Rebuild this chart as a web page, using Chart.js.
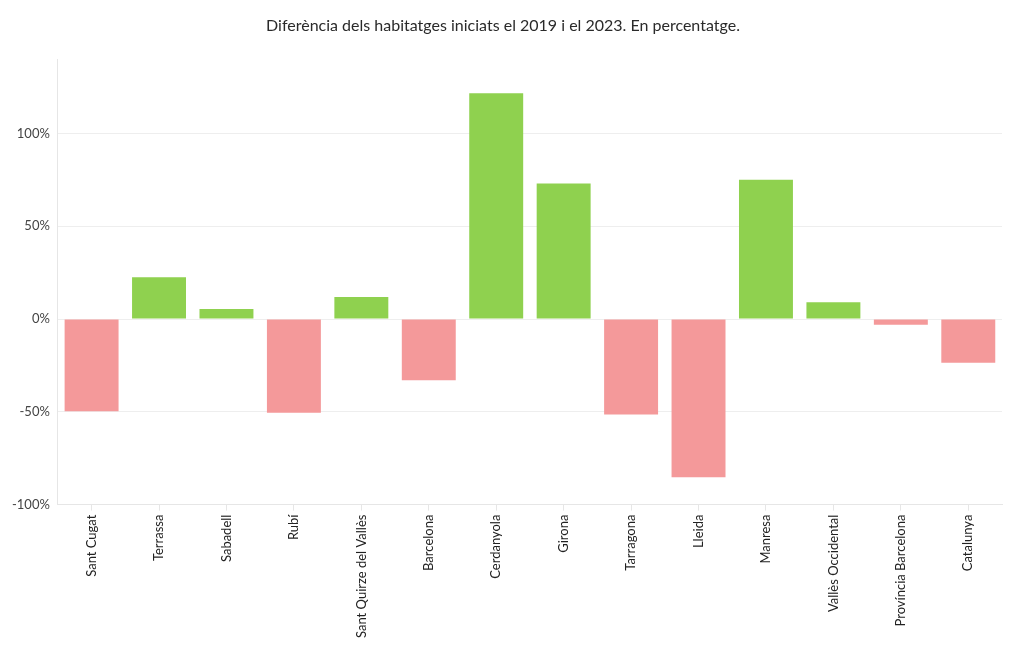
<!DOCTYPE html>
<html>
<head>
<meta charset="utf-8">
<script src="https://cdn.jsdelivr.net/npm/chart.js@4"></script>
<style>
  body { margin: 0; background: #fff; }
  #contenidor { width: 1020px; height: 650px; }
</style>
</head>
<body>
<div id="contenidor"><canvas id="myChart" width="1020" height="650"></canvas></div>
<script>
var municipis = ['Sant Cugat', 'Terrassa', 'Sabadell', 'Rubí', 'Sant Quirze del Vallès', 'Barcelona', 'Cerdanyola', 'Girona', 'Tarragona', 'Lleida', 'Manresa', 'Vallès Occidental', 'Província Barcelona', 'Catalunya'];
var diferencies = [-49.7, 22.5, 5.4, -50.5, 11.9, -33.0, 121.6, 73.0, -51.4, -85.2, 75.1, 9.0, -3.1, -23.6];
var marquesY = [-100, -50, 0, 50, 100];

var verd = '#8fd14f';
var vermell = '#f4999a';

var colors = [];
for (var i = 0; i < diferencies.length; i++) {
  colors[i] = diferencies[i] >= 0 ? verd : vermell;
}

var font = "'Source Sans Pro', Lato, 'Noto Sans', sans-serif";
Chart.defaults.font.family = font;
Chart.defaults.color = '#444';

var grafico = new Chart(document.getElementById('myChart'), {
  type: 'bar',
  data: {
    labels: municipis,
    datasets: [{
      data: diferencies,
      backgroundColor: colors,
      borderWidth: 0,
      barPercentage: 0.8,
      categoryPercentage: 1.0
    }]
  },
  options: {
    responsive: false,
    animation: false,
    layout: { padding: { left: 4, right: 18, top: 6, bottom: 8 } },
    plugins: {
      legend: { display: false },
      tooltip: { enabled: false },
      title: {
        display: true,
        text: 'Diferència dels habitatges iniciats el 2019 i el 2023. En percentatge.',
        color: '#2a2a2a',
        font: { size: 16, weight: 'normal' },
        padding: { top: 10, bottom: 24 }
      }
    },
    scales: {
      x: {
        grid: { display: true, drawOnChartArea: false, offset: false, color: '#e6e6e6', tickLength: 6 },
        border: { display: true, color: '#e6e6e6' },
        ticks: { minRotation: 90, maxRotation: 90, autoSkip: false, font: { size: 13 }, color: '#222', padding: 4 }
      },
      y: {
        min: -100,
        max: 140,
        grid: { color: '#eeeeee', drawTicks: false },
        border: { display: true, color: '#e6e6e6' },
        afterBuildTicks: function (scale) {
          scale.ticks = marquesY.map(function (v) { return { value: v }; });
        },
        ticks: {
          font: { size: 13 },
          color: '#444',
          padding: 8,
          callback: function (v) { return v + '%'; }
        }
      }
    }
  }
});
</script>
</body>
</html>
